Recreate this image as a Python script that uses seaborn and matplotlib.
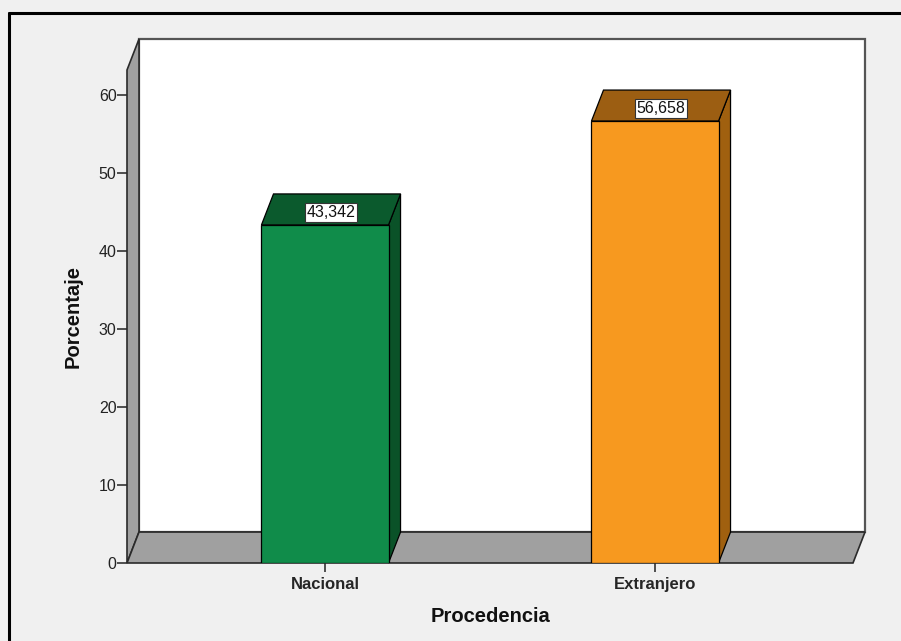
import matplotlib
matplotlib.use("Agg")
import matplotlib.pyplot as plt
from matplotlib.patches import Polygon
from matplotlib.lines import Line2D
import seaborn as sns
import pandas as pd

# ---- data ----
categories = ["Nacional", "Extranjero"]
values = [43.342, 56.658]
value_labels = ["43,342", "56,658"]
y_ticks = [0, 10, 20, 30, 40, 50, 60]

front_colors = ["#108C4A", "#F7991F"]
top_colors = ["#0B5A2D", "#9C5E12"]
side_colors = ["#0A5228", "#A0600F"]

sns.set_theme(style="white")
plt.rcParams["font.family"] = ["Liberation Sans", "DejaVu Sans"]

BG = "#F0F0F0"
WALL = "#A0A0A0"
EDGE = "#2A2A2A"

fig = plt.figure(figsize=(9.01, 6.41), dpi=100, facecolor=BG)
W, H = 901, 641
ax_l, ax_r, ax_t, ax_b = 127, 853, 70, 563
ax = fig.add_axes([ax_l / W, (H - ax_b) / H, (ax_r - ax_l) / W, (ax_b - ax_t) / H])
ax.set_facecolor("none")

x0, x1 = -0.6, 1.6
ytop = 63.2
dx, dy = 0.0364, 3.97
bw = 0.385

df = pd.DataFrame({"Procedencia": categories, "Porcentaje": values})
sns.barplot(data=df, x="Procedencia", y="Porcentaje", hue="Procedencia",
            palette=front_colors, width=bw, edgecolor="black", linewidth=0.9,
            legend=False, ax=ax, zorder=2, saturation=1)

ax.set_xlim(x0, x1)
ax.set_ylim(0, ytop)

# back wall
ax.add_patch(Polygon([(x0 + dx, dy), (x1 + dx, dy), (x1 + dx, ytop + dy), (x0 + dx, ytop + dy)],
                     closed=True, facecolor="white", edgecolor="#555555", lw=1.6,
                     clip_on=False, zorder=0.5))
# left wall
ax.add_patch(Polygon([(x0, 0), (x0, ytop), (x0 + dx, ytop + dy), (x0 + dx, dy)],
                     closed=True, facecolor=WALL, edgecolor=EDGE, lw=1.2,
                     clip_on=False, zorder=0.6))
# floor
ax.add_patch(Polygon([(x0, 0), (x1, 0), (x1 + dx, dy), (x0 + dx, dy)],
                     closed=True, facecolor=WALL, edgecolor=EDGE, lw=1.2,
                     clip_on=False, zorder=0.6))

for i, (v, lab) in enumerate(zip(values, value_labels)):
    l, r = i - bw / 2, i + bw / 2
    ax.add_patch(Polygon([(r, 0), (r + dx, dy), (r + dx, v + dy), (r, v)], closed=True,
                         facecolor=side_colors[i], edgecolor="black", lw=0.9, zorder=1.9,
                         clip_on=False))
    ax.add_patch(Polygon([(l, v), (r, v), (r + dx, v + dy), (l + dx, v + dy)], closed=True,
                         facecolor=top_colors[i], edgecolor="black", lw=0.9, zorder=1.9,
                         clip_on=False))
    ax.text(i + dx / 2, v + 1.6, lab, ha="center", va="center", fontsize=11.5, color="#111111",
            zorder=3, bbox=dict(boxstyle="square,pad=0.12", facecolor="white",
                                edgecolor="#333333", lw=0.8))

for s in ax.spines.values():
    s.set_visible(False)

ax.set_yticks(y_ticks)
ax.set_yticklabels([str(t) for t in y_ticks])
ax.tick_params(axis="y", which="both", left=True, direction="out", length=7, width=1.2,
               color="#333333", pad=0.5, labelsize=11.5, labelcolor="#222222")
ax.tick_params(axis="x", which="both", bottom=True, direction="out", length=6.5, width=1.2,
               color="#333333", pad=3.5, labelsize=12)
for t in ax.get_xticklabels():
    t.set_fontweight("bold")

ax.set_xlabel("Procedencia", fontsize=14.5, fontweight="bold", color="#111111")
ax.set_ylabel("Porcentaje", fontsize=14.5, fontweight="bold", color="#111111")
ax.xaxis.label.set_va("center")
ax.yaxis.label.set_va("center")
ax.xaxis.set_label_coords((490 - ax_l) / (ax_r - ax_l), -(617 - ax_b) / (ax_b - ax_t))
ax.yaxis.set_label_coords(-(ax_l - 73) / (ax_r - ax_l), 0.5)

# outer frame
fig.add_artist(Line2D([9 / W, 1.0], [(H - 13) / H, (H - 13) / H], transform=fig.transFigure,
                      color="black", lw=2.2))
fig.add_artist(Line2D([9 / W, 9 / W], [(H - 13) / H, 0], transform=fig.transFigure,
                      color="black", lw=2.2))

fig.savefig("out.png", dpi=100, facecolor=BG)
